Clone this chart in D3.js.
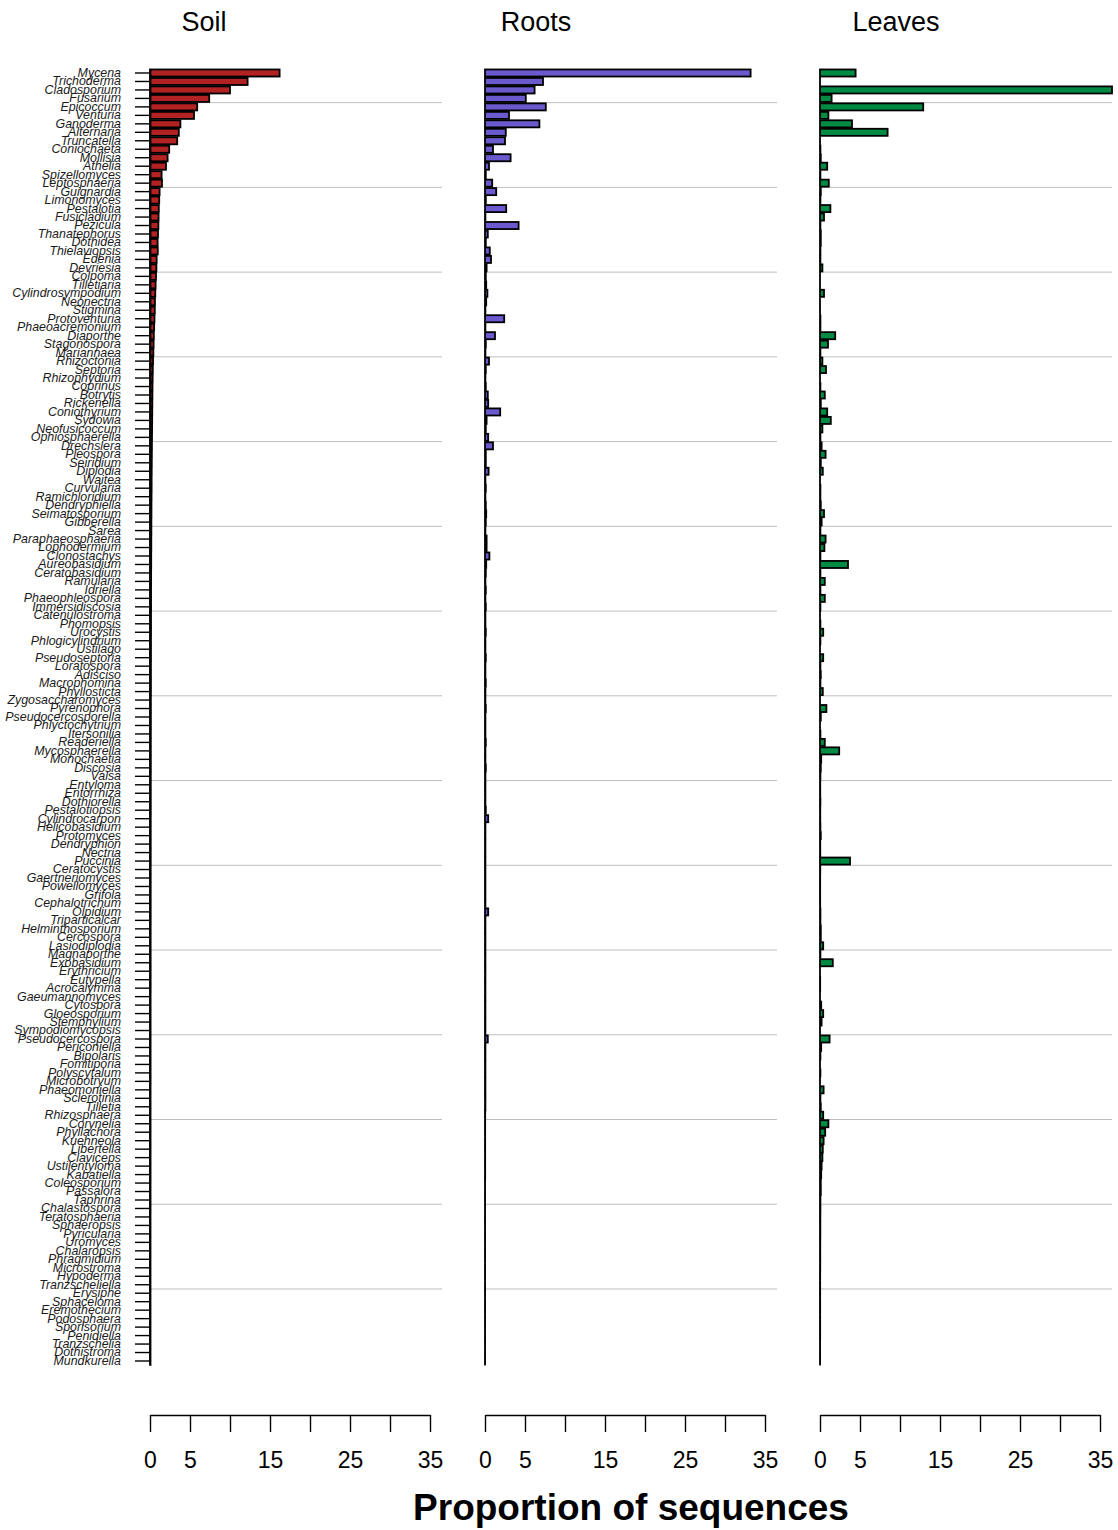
<!DOCTYPE html>
<html>
<head>
<meta charset="utf-8">
<script src="https://cdn.jsdelivr.net/npm/d3@7"></script>
<style>
  html, body { margin: 0; padding: 0; background: #fff; }
  svg { display: block; font-family: "Liberation Sans", Arial, Helvetica, sans-serif; }
</style>
</head>
<body>
<script>
const genera = ["Mycena","Trichoderma","Cladosporium","Fusarium","Epicoccum","Venturia","Ganoderma","Alternaria","Truncatella","Coniochaeta",
"Mollisia","Athelia","Spizellomyces","Leptosphaeria","Guignardia","Limonomyces","Pestalotia","Fusicladium","Pezicula","Thanatephorus",
"Dothidea","Thielaviopsis","Edenia","Devriesia","Colpoma","Tilletiaria","Cylindrosympodium","Neonectria","Stigmina","Protoventuria",
"Phaeoacremonium","Diaporthe","Stagonospora","Mariannaea","Rhizoctonia","Septoria","Rhizophydium","Coprinus","Botrytis","Rickenella",
"Coniothyrium","Sydowia","Neofusicoccum","Ophiosphaerella","Drechslera","Pleospora","Seiridium","Diplodia","Waitea","Curvularia",
"Ramichloridium","Dendryphiella","Seimatosporium","Gibberella","Sarea","Paraphaeosphaeria","Lophodermium","Clonostachys","Aureobasidium","Ceratobasidium",
"Ramularia","Idriella","Phaeophleospora","Immersidiscosia","Catenulostroma","Phomopsis","Urocystis","Phlogicylindrium","Ustilago","Pseudoseptoria",
"Loratospora","Adisciso","Macrophomina","Phyllosticta","Zygosaccharomyces","Pyrenophora","Pseudocercosporella","Phlyctochytrium","Itersonilia","Readeriella",
"Mycosphaerella","Monochaetia","Discosia","Valsa","Entyloma","Entorrhiza","Dothiorella","Pestalotiopsis","Cylindrocarpon","Helicobasidium",
"Protomyces","Dendryphion","Nectria","Puccinia","Ceratocystis","Gaertneriomyces","Powellomyces","Grifola","Cephalotrichum","Olpidium",
"Triparticalcar","Helminthosporium","Cercospora","Lasiodiplodia","Magnaporthe","Exobasidium","Erythricium","Eutypella","Acrocalymma","Gaeumannomyces",
"Cytospora","Gloeosporium","Stemphylium","Sympodiomycopsis","Pseudocercospora","Periconiella","Bipolaris","Fomitiporia","Polyscytalum","Microbotryum",
"Phaeomoniella","Sclerotinia","Tilletia","Rhizosphaera","Corynelia","Phyllachora","Kuehneola","Libertella","Claviceps","Ustilentyloma",
"Kabatiella","Coleosporium","Passalora","Taphrina","Chalastospora","Teratosphaeria","Sphaeropsis","Pyricularia","Uromyces","Chalaropsis",
"Phragmidium","Microstroma","Hypoderma","Tranzscheliella","Erysiphe","Sphaceloma","Eremothecium","Podosphaera","Sporisorium","Penidiella",
"Tranzschelia","Dothistroma","Mundkurella"];

const soil = [16.2,12.2,10.0,7.4,5.9,5.5,3.8,3.6,3.4,2.4,
2.2,2.0,1.45,1.5,1.2,1.15,1.1,1.07,1.05,1.0,
0.95,0.97,0.83,0.8,0.75,0.7,0.66,0.62,0.6,0.56,
0.52,0.48,0.45,0.42,0.38,0.35,0.33,0.31,0.3,0.29,
0.28,0.27,0.26,0.25,0.24,0.23,0.22,0.21,0.2,0.2,
0.19,0.18,0.18,0.17,0.17,0.16,0.16,0.15,0.15,0.14,
0.14,0.13,0.13,0.13,0.12,0.12,0.12,0.11,0.11,0.11,
0.1,0.1,0.1,0.1,0.09,0.09,0.09,0.09,0.08,0.08,
0.08,0.08,0.08,0.07,0.07,0.07,0.07,0.07,0.06,0.06,
0.06,0.06,0.06,0.06,0.05,0.05,0.05,0.05,0.05,0.05,
0.05,0.04,0.04,0.04,0.04,0.04,0.04,0.04,0.04,0.03,
0.03,0.03,0.03,0.03,0.03,0.03,0.03,0.03,0.03,0.03,
0.02,0.02,0.02,0.02,0.02,0.02,0.02,0.02,0.02,0.02,
0.02,0.02,0.02,0.02,0.02,0.01,0.01,0.01,0.01,0.01,
0.01,0.01,0.01,0.01,0.01,0.01,0.01,0.01,0.01,0.01,
0.01,0.01,0.01];

const roots = [33.2,7.25,6.2,5.1,7.6,3.0,6.8,2.6,2.5,1.0,
3.2,0.5,0.1,0.9,1.4,0.1,2.65,0.05,4.2,0.35,
0.1,0.6,0.75,0.2,0.1,0.15,0.3,0.15,0.05,2.4,
0.05,1.25,0.1,0.05,0.5,0.1,0.05,0.1,0.35,0.4,
1.9,0.2,0.1,0.4,1.0,0.1,0.1,0.45,0.05,0.1,
0.05,0.1,0.15,0.1,0.05,0.2,0.2,0.55,0.15,0.1,
0.05,0.1,0.05,0.1,0.05,0.05,0.1,0.05,0.05,0.1,
0.05,0.05,0.1,0.05,0.05,0.1,0.05,0.05,0.05,0.1,
0.05,0.05,0.1,0.05,0.05,0.05,0.05,0.1,0.4,0.05,
0.05,0.05,0.05,0.05,0.05,0.05,0.05,0.05,0.05,0.4,
0.05,0.05,0.05,0.05,0.05,0.05,0.05,0.05,0.05,0.05,
0.05,0.05,0.05,0.05,0.35,0.05,0.05,0.05,0.05,0.05,
0.05,0.05,0.05,0.02,0.02,0.02,0.02,0.02,0.02,0.02,
0.02,0.01,0.01,0.01,0.01,0.01,0.01,0.01,0.01,0.01,
0.01,0.01,0.01,0.01,0.01,0.01,0.01,0.01,0.01,0.01,
0.01,0.01,0.01];

const leaves = [4.45,0,36.5,1.45,12.9,1.05,4.0,8.45,0,0.05,
0.1,0.9,0.05,1.1,0.1,0.05,1.3,0.5,0.05,0.1,
0.1,0.05,0.05,0.3,0,0,0.5,0,0,0.05,
0.05,1.9,1.0,0.05,0.3,0.75,0,0.05,0.6,0.1,
0.9,1.35,0.3,0.05,0.2,0.7,0.1,0.35,0,0.05,
0.05,0.1,0.5,0.2,0.05,0.7,0.55,0.05,3.5,0.05,
0.6,0.05,0.6,0.05,0,0.05,0.4,0.05,0,0.4,
0.05,0.1,0.05,0.35,0,0.8,0.1,0,0.05,0.6,
2.4,0.15,0.1,0.05,0.03,0.03,0.05,0.03,0.03,0.05,
0.1,0.03,0.03,3.75,0.03,0.02,0.02,0.02,0.02,0.05,
0.05,0.1,0.1,0.4,0.05,1.6,0,0.02,0.02,0,
0.15,0.4,0.2,0,1.2,0.15,0.05,0,0.05,0,
0.45,0.05,0.1,0.4,1.05,0.65,0.45,0.35,0.3,0.2,
0.15,0.1,0.1,0.05,0.05,0.04,0.04,0.04,0.03,0.03,
0.03,0.03,0.02,0.02,0.02,0.02,0.02,0.02,0.02,0.02,
0.01,0.01,0.01];

const panelNames = ["Soil","Roots","Leaves"];
const panelColors = ["#B22222","#6A5ACD","#008B45"];
const xTicks = [0,5,10,15,20,25,30,35];
const xTickLabels = ["0","5","","15","","25","","35"];
const xAxisTitle = "Proportion of sequences";

const W = 1118, H = 1530;
const svg = d3.select("body").append("svg").attr("width", W).attr("height", H);

const y = d3.scaleBand().domain(genera).range([68.76, 1365.24]).paddingInner(1/6).paddingOuter(1/12);
const series = [soil, roots, leaves];
const origins = [150, 485, 820];
const titleX = [204, 536, 896];
const axisY = 1415;

const gridIdx = d3.range(4, 150, 10);

series.forEach((vals, p) => {
  const x = d3.scaleLinear().domain([0, 35]).range([origins[p], origins[p] + 280]);
  const g = svg.append("g");

  g.selectAll("line.grid").data(gridIdx).join("line")
    .attr("class", "grid")
    .attr("x1", x(0)).attr("x2", x(36.5))
    .attr("y1", i => (y(genera[i-1]) + y(genera[i]) + y.bandwidth()) / 2)
    .attr("y2", i => (y(genera[i-1]) + y(genera[i]) + y.bandwidth()) / 2)
    .attr("stroke", "#BEBEBE").attr("stroke-width", 1);

  g.selectAll("rect.bar").data(genera.map((n, i) => ({n, v: vals[i]}))).join("rect")
    .attr("class", "bar")
    .attr("x", x(0))
    .attr("y", d => y(d.n))
    .attr("width", d => Math.max(x(d.v) - x(0), 0.001))
    .attr("height", y.bandwidth())
    .attr("fill", panelColors[p])
    .attr("stroke", "#000").attr("stroke-width", 1.8);

  const ax = svg.append("g").attr("transform", `translate(0,${axisY})`)
    .call(d3.axisBottom(x).tickValues(xTicks).tickSize(17).tickSizeOuter(0).tickPadding(20)
      .tickFormat((d, i) => xTickLabels[i]));
  ax.selectAll("path,line").attr("stroke", "#000").attr("stroke-width", 1.4);
  ax.selectAll("text").attr("font-size", 23).attr("fill", "#000")
    .attr("font-family", "Liberation Sans, Arial, sans-serif");

  svg.append("text").attr("x", titleX[p]).attr("y", 31)
    .attr("text-anchor", "middle").attr("font-size", 27).attr("fill", "#000")
    .text(panelNames[p]);

  if (p === 0) {
    const ay = svg.append("g").attr("transform", `translate(${x(0)},0)`)
      .call(d3.axisLeft(y).tickSize(15).tickPadding(14).tickSizeOuter(0));
    ay.select("path").attr("stroke", "#000").attr("stroke-width", 1.8);
    ay.selectAll("line").attr("stroke", "#000").attr("stroke-width", 1.4);
    ay.selectAll("text").attr("font-size", 12.4).attr("font-style", "italic").attr("fill", "#1a1a1a")
      .attr("font-family", "Liberation Sans, Arial, sans-serif");
  }
});

svg.append("text").attr("x", 631).attr("y", 1520)
  .attr("text-anchor", "middle").attr("font-size", 37).attr("font-weight", "bold").attr("fill", "#000")
  .text(xAxisTitle);
</script>
</body>
</html>
